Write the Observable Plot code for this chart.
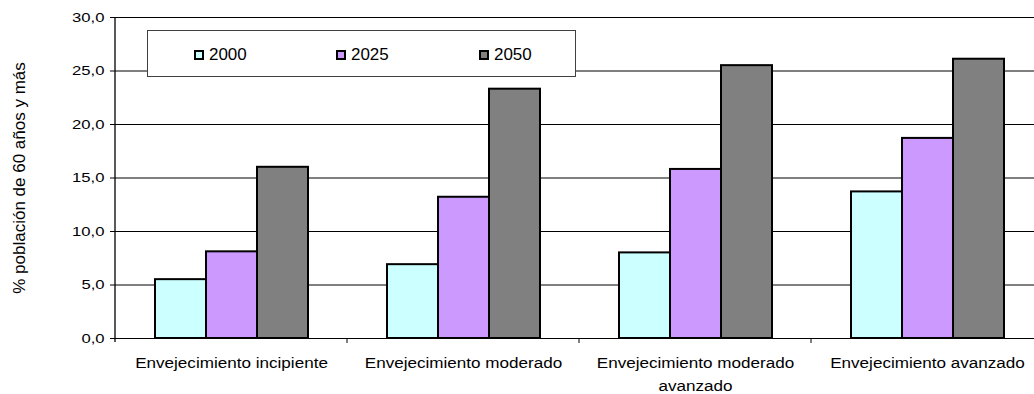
<!DOCTYPE html>
<html>
<head>
<meta charset="utf-8">
<script src="https://cdn.jsdelivr.net/npm/d3@7"></script>
<script src="https://cdn.jsdelivr.net/npm/@observablehq/plot@0.6"></script>
<style>
  html, body { margin: 0; padding: 0; background: #fff; overflow: hidden; }
  #wrap { position: relative; width: 1034px; height: 394px; overflow: hidden; font-family: "Liberation Sans", Arial, sans-serif; color: #000; }
  #chart svg { max-width: none !important; display: block; }
  #ytitle { position: absolute; left: 19px; top: 178px; transform: translate(-50%, -50%) rotate(-90deg); white-space: nowrap; font-size: 17px; line-height: 1; }
  #legend { position: absolute; left: 147px; top: 30px; width: 429px; height: 47px; border: 1px solid #404040; background: #fff; box-sizing: border-box; }
  .item { position: absolute; top: 17px; display: flex; align-items: center; height: 13px; }
  .swatch { width: 10px; height: 10px; box-sizing: border-box; border: 2px solid #000; margin-right: 5px; }
  .item span { font-size: 16px; line-height: 1; display: inline-block; transform: scaleX(1.06); transform-origin: left center; }
</style>
</head>
<body>
<div id="wrap">
  <div id="chart"></div>
  <div id="legend"></div>
  <div id="ytitle"></div>
</div>
<script>
// Share of population aged 60+ by ageing stage, for three years
const categories = [
  "Envejecimiento incipiente",
  "Envejecimiento moderado",
  "Envejecimiento moderado avanzado",
  "Envejecimiento avanzado"
];
const years = ["2000", "2025", "2050"];
const values2000 = [5.5, 6.9, 8.0, 13.7];
const values2025 = [8.1, 13.2, 15.8, 18.7];
const values2050 = [16.0, 23.3, 25.5, 26.1];
const yTicks = [0, 5, 10, 15, 20, 25, 30];
const colors = ["#CCFFFF", "#CC99FF", "#808080"];
const yTitle = "% población de 60 años y más";

const series = [values2000, values2025, values2050];
const rows = categories.flatMap((c, i) =>
  years.map((yr, j) => ({category: c, year: yr, value: series[j][i]}))
);

const fmt = d => d.toFixed(1).replace(".", ",");
// long category names break before their last word
const wrapLabel = d => d.length > 25 ? d.replace(/ (\S+)$/, "\n$1") : d;

const chart = Plot.plot({
  width: 1043,
  height: 394,
  marginLeft: 115,
  marginRight: 0,
  marginTop: 17,
  marginBottom: 56,
  style: {fontFamily: "Liberation Sans, Arial, sans-serif", fontSize: "13px", color: "#000", background: "#fff", maxWidth: "none"},
  fx: {domain: categories, paddingInner: 0, paddingOuter: 0, label: null},
  x: {domain: years, paddingInner: 0, paddingOuter: 0.745, axis: null},
  y: {domain: [0, 30], label: null},
  color: {domain: years, range: colors},
  marks: [
    Plot.gridY(yTicks, {stroke: "#000", strokeOpacity: 1}),
    Plot.barY(rows, {fx: "category", x: "year", y: "value", fill: "year", stroke: "#000", strokeWidth: 2}),
    Plot.axisY(yTicks, {tickSize: 5, tickPadding: 6, tickFormat: fmt, label: null}),
    Plot.axisFx({anchor: "bottom", tickSize: 0, tickPadding: 14, fontSize: 14, tickFormat: wrapLabel, label: null, lineHeight: 1.6})
  ]
});
document.getElementById("chart").appendChild(chart);

// y axis line and category boundary ticks, placed with the chart's scales
const fx = chart.scale("fx");
const y = chart.scale("y");
const svg = d3.select(chart);
const x0 = fx.apply(categories[0]);
svg.append("line")
  .attr("x1", x0).attr("x2", x0)
  .attr("y1", y.apply(30)).attr("y2", y.apply(0) + 4)
  .attr("stroke", "#000").attr("stroke-width", 1.3);
categories.slice(1).forEach(c => {
  const xb = fx.apply(c);
  svg.append("line")
    .attr("x1", xb).attr("x2", xb)
    .attr("y1", y.apply(0)).attr("y2", y.apply(0) + 5)
    .attr("stroke", "#000");
});

// widen the axis lettering
function widen(selector, k) {
  chart.querySelectorAll(selector).forEach(t => {
    const parts = t.querySelectorAll("tspan");
    const nodes = parts.length ? Array.from(parts) : [t];
    nodes.forEach(n => {
      const len = n.getComputedTextLength();
      if (len > 0) {
        n.setAttribute("textLength", (len * k).toFixed(2));
        n.setAttribute("lengthAdjust", "spacingAndGlyphs");
      }
    });
  });
}
widen('g[aria-label="y-axis tick label"] text', 1.28);
widen('g[aria-label="fx-axis tick label"] text', 1.22);

// legend
const legend = d3.select("#legend");
const offsets = [46, 188, 331];
years.forEach((yr, i) => {
  const item = legend.append("div").attr("class", "item").style("left", offsets[i] + "px");
  item.append("div").attr("class", "swatch").style("background", colors[i]);
  item.append("span").text(yr);
});

document.getElementById("ytitle").textContent = yTitle;
</script>
</body>
</html>
